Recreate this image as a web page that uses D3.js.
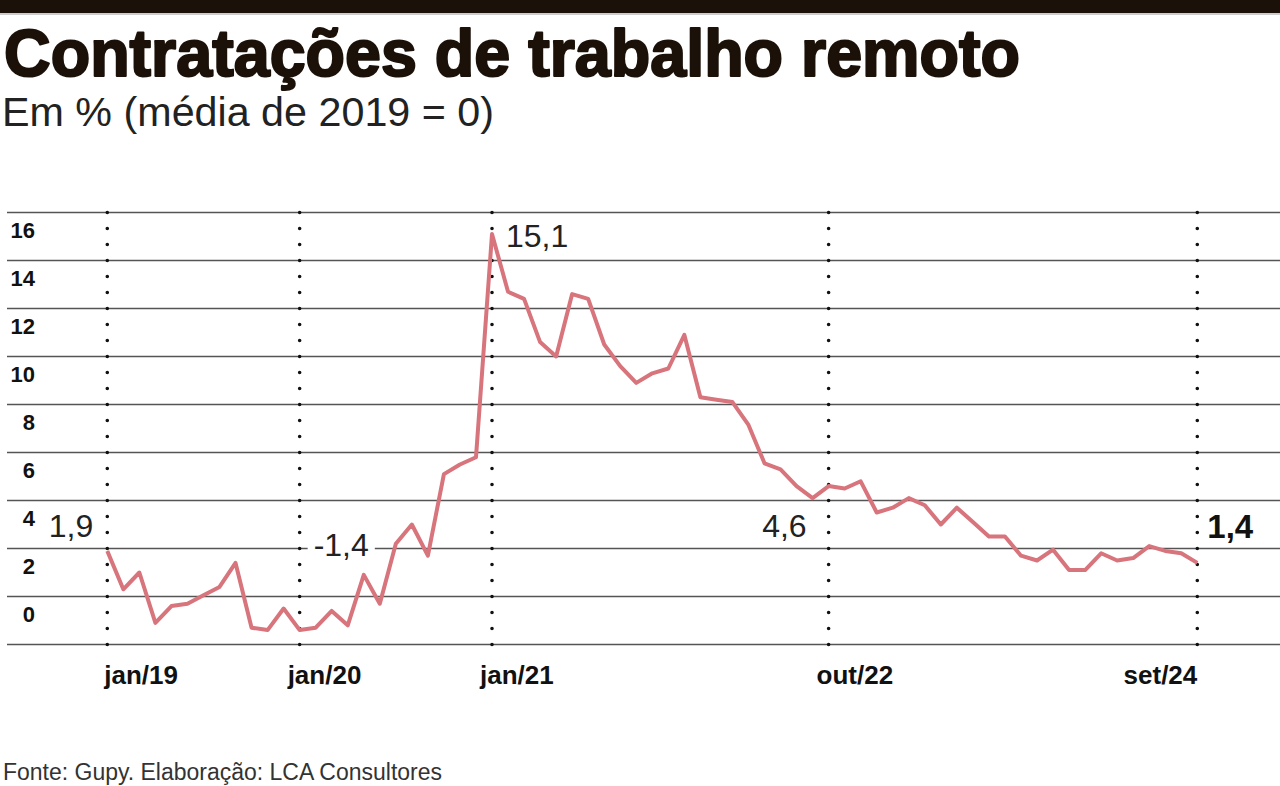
<!DOCTYPE html>
<meta charset="utf-8">
<style>
body { margin: 0; background: #fff; }
.grid line { stroke: #555; stroke-width: 1.5px; }
.vdots { stroke: #111; stroke-width: 3.6px; stroke-linecap: round; stroke-dasharray: 0 16; }
.line { fill: none; stroke: #d7747c; stroke-width: 4px; stroke-linejoin: round; }
.ylab { font-family: "Liberation Sans", sans-serif; font-weight: bold; font-size: 22px; fill: #111; }
.xlab { font-family: "Liberation Sans", sans-serif; font-weight: bold; font-size: 26px; fill: #111; }
.note { font-family: "Liberation Sans Narrow", sans-serif; font-size: 32px; fill: #222; }
.note.last { font-family: "Liberation Sans", sans-serif; font-weight: bold; font-size: 33px; fill: #111; }
</style>
<body>
<svg id="chart" width="1280" height="786"></svg>
</body>
<script src="https://d3js.org/d3.v7.min.js"></script>
<script>

// monthly values, jan/19 .. set/24 (% vs 2019 average)
var values = [
  1.9, 0.3, 1.0, -1.1, -0.4, -0.3, 0.05, 0.4, 1.4, -1.3, -1.4, -0.5,
  -1.4, -1.3, -0.6, -1.2, 0.9, -0.3, 2.2, 3.0, 1.7, 5.1, 5.5, 5.8,
  15.1, 12.7, 12.4, 10.6, 10.0, 12.6, 12.4, 10.5, 9.6, 8.9, 9.3, 9.5,
  10.9, 8.3, 8.2, 8.1, 7.15, 5.55, 5.3, 4.6, 4.1, 4.6, 4.5, 4.8,
  3.5, 3.7, 4.1, 3.8, 3.0, 3.7, 3.1, 2.5, 2.5, 1.7, 1.5, 1.95,
  1.1, 1.1, 1.8, 1.5, 1.6, 2.1, 1.9, 1.8, 1.4
];

// x axis: month index of each marked month
var tickIdx = [0, 12, 24, 45, 68];
var tickLabels = ["jan/19", "jan/20", "jan/21", "out/22", "set/24"];

// y axis
var gridValues = [16, 14, 12, 10, 8, 6, 4, 2, 0, -2];
var yLabels = [16, 14, 12, 10, 8, 6, 4, 2, 0];

// highlighted points
var notes = [
  {i: 0, text: "1,9"},
  {i: 12, text: "-1,4"},
  {i: 24, text: "15,1"},
  {i: 45, text: "4,6"},
  {i: 68, text: "1,4"}
];

var svg = d3.select("#chart");

var x = d3.scaleLinear().domain([0, values.length - 1]).range([107.3, 1197.3]);
var y = d3.scaleLinear().domain([-2, 16]).range([644.5, 212.5]);

// top bar
svg.append("rect").attr("x", 0).attr("y", 0).attr("width", 1280).attr("height", 13).attr("fill", "#1b1108");
svg.append("line").attr("x1", 0).attr("x2", 1280).attr("y1", 14).attr("y2", 14).attr("stroke", "#999").attr("stroke-width", 1);

// title + subtitle
svg.append("text")
    .attr("x", 4).attr("y", 76)
    .attr("textLength", 1016).attr("lengthAdjust", "spacingAndGlyphs")
    .style("font-family", "'Liberation Sans Narrow', sans-serif")
    .style("font-weight", "bold").style("font-size", "66px").style("fill", "#1b1108")
    .style("stroke", "#1b1108").style("stroke-width", "2.2px").style("stroke-linejoin", "round")
    .text("Contratações de trabalho remoto");

svg.append("text")
    .attr("x", 2).attr("y", 126)
    .attr("textLength", 492).attr("lengthAdjust", "spacingAndGlyphs")
    .style("font-family", "'Liberation Sans Narrow', sans-serif")
    .style("font-size", "40px").style("fill", "#222")
    .text("Em % (média de 2019 = 0)");

// grid
svg.append("g").attr("class", "grid")
  .selectAll("line")
  .data(gridValues)
  .enter().append("line")
    .attr("x1", 7).attr("x2", 1280)
    .attr("y1", function(d) { return y(d); })
    .attr("y2", function(d) { return y(d); });

// y labels hang just under their grid line
svg.selectAll(".ylab")
  .data(yLabels)
  .enter().append("text")
    .attr("class", "ylab")
    .attr("x", 35)
    .attr("y", function(d) { return y(d) + 25; })
    .attr("text-anchor", "end")
    .text(function(d) { return d; });

// dotted month markers
svg.selectAll(".vdots")
  .data(tickIdx)
  .enter().append("line")
    .attr("class", "vdots")
    .attr("x1", function(d) { return x(d); })
    .attr("x2", function(d) { return x(d); })
    .attr("y1", y(16))
    .attr("y2", y(-2) + 1);

// x labels
svg.selectAll(".xlab")
  .data(tickIdx)
  .enter().append("text")
    .attr("class", "xlab")
    .attr("x", function(d, i) {
      if (i == 0) return x(d) - 3;
      if (i == tickIdx.length - 1) return x(d);
      return x(d) - 12;
    })
    .attr("y", 684)
    .attr("text-anchor", function(d, i) { return i == tickIdx.length - 1 ? "end" : "start"; })
    .text(function(d, i) { return tickLabels[i]; });

// the line
var line = d3.line()
    .x(function(d, i) { return x(i); })
    .y(function(d) { return y(d); });

svg.append("path")
    .datum(values)
    .attr("class", "line")
    .attr("d", line);

// notes: offset of each label from its point
var off = {
  0:  {dx: -14, dy: -14, anchor: "end"},
  12: {dx: 14, dy: -74, anchor: "start", bg: true},
  24: {dx: 14, dy: 13, anchor: "start"},
  45: {dx: -22, dy: 51, anchor: "end"},
  68: {dx: 10, dy: -25, anchor: "start"}
};

notes.forEach(function(n, k) {
  var o = off[n.i];
  var t = svg.append("text")
      .attr("class", k == notes.length - 1 ? "note last" : "note")
      .attr("x", x(n.i) + o.dx)
      .attr("y", y(values[n.i]) + o.dy)
      .attr("text-anchor", o.anchor)
      .text(n.text);
  if (o.bg) {
    var b = t.node().getBBox();
    svg.insert("rect", function() { return t.node(); })
        .attr("x", b.x - 6).attr("y", b.y + 4)
        .attr("width", b.width + 12).attr("height", b.height - 8)
        .attr("fill", "#fff");
  }
});

// source
svg.append("text")
    .attr("x", 3).attr("y", 780)
    .attr("textLength", 439).attr("lengthAdjust", "spacingAndGlyphs")
    .style("font-family", "'Liberation Sans Narrow', sans-serif")
    .style("font-size", "23px").style("fill", "#333")
    .text("Fonte: Gupy. Elaboração: LCA Consultores");

</script>
